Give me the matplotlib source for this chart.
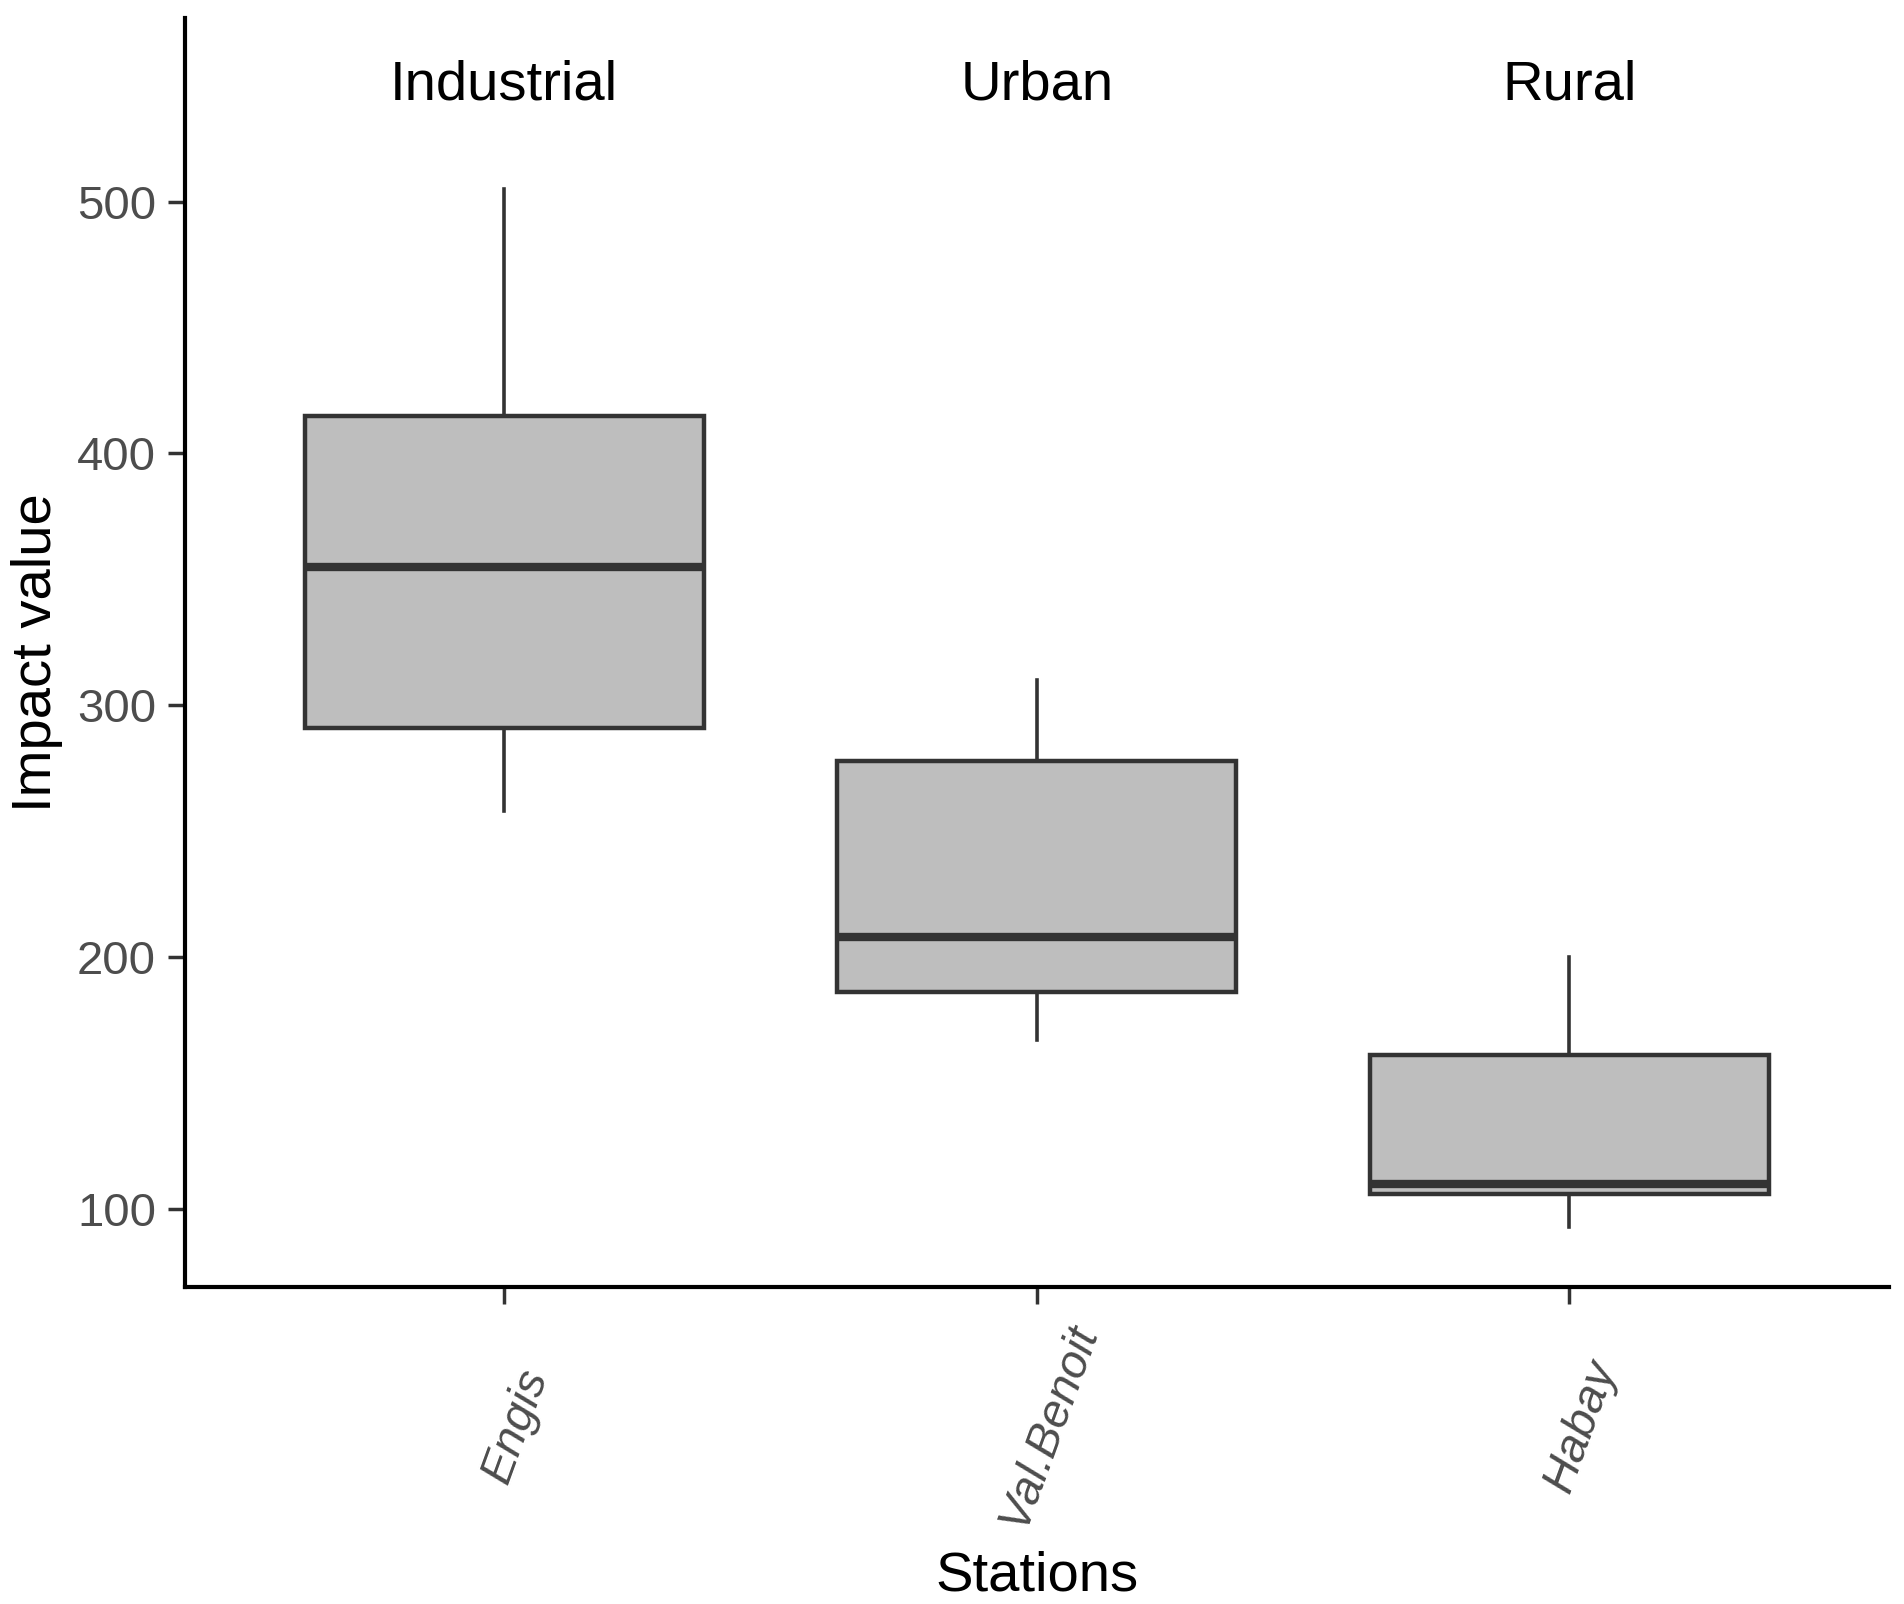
import numpy as np
import matplotlib
matplotlib.use('Agg')
import matplotlib.pyplot as plt
from matplotlib.transforms import ScaledTranslation

plt.rcParams['font.family'] = ['Liberation Sans', 'DejaVu Sans']

stations = ['Engis', 'Val.Benoit', 'Habay']
groups = ['Industrial', 'Urban', 'Rural']
whisker_low = [258, 167, 93]
q1 = [291, 186, 106]
median = [355, 208, 110]
q3 = [415, 278, 161]
whisker_high = [505, 310, 200]

stats = []
for i in range(len(stations)):
    stats.append({'whislo': whisker_low[i], 'q1': q1[i], 'med': median[i],
                  'q3': q3[i], 'whishi': whisker_high[i], 'fliers': [],
                  'label': stations[i]})

fig = plt.figure(figsize=(19.04, 16.04), dpi=100)
ax = fig.add_axes([0.097, 0.1976, 0.895, 0.7914])

pos = np.arange(1, len(stations) + 1)
ax.bxp(stats, positions=pos, widths=0.75, patch_artist=True, showcaps=False,
       boxprops=dict(facecolor='#bebebe', edgecolor='#333333', linewidth=3.2),
       medianprops=dict(color='#333333', linewidth=6),
       whiskerprops=dict(color='#333333', linewidth=2.6))

for p, g in zip(pos, groups):
    ax.text(p, 546, g, ha='center', va='center', fontsize=40.5, color='black')

ax.set_xlim(0.4, 3.6)
ax.set_ylim(69, 573)
ax.set_yticks([100, 200, 300, 400, 500])
ax.set_xticks(pos)
ax.set_xticklabels(stations, rotation=70, ha='center', va='center',
                   rotation_mode='anchor', fontstyle='italic',
                   fontsize=34, color='#4d4d4d')
ax.tick_params(axis='y', labelsize=34, labelcolor='#4d4d4d')
ax.tick_params(axis='both', length=12, width=2.5, color='#333333', pad=8.6)
ax.tick_params(axis='x', pad=88)

# nudge the rotated labels a little to the right, like the original
shift = ScaledTranslation(0.12, 0, fig.dpi_scale_trans)
for lbl in ax.get_xticklabels():
    lbl.set_transform(lbl.get_transform() + shift)

for s in ['top', 'right']:
    ax.spines[s].set_visible(False)
for s in ['left', 'bottom']:
    ax.spines[s].set_linewidth(3)
    ax.spines[s].set_color('black')

ax.set_xlabel('Stations', fontsize=40.5, labelpad=12)
ax.set_ylabel('Impact value', fontsize=40.5, labelpad=10)

fig.savefig('out.png', dpi=100)
